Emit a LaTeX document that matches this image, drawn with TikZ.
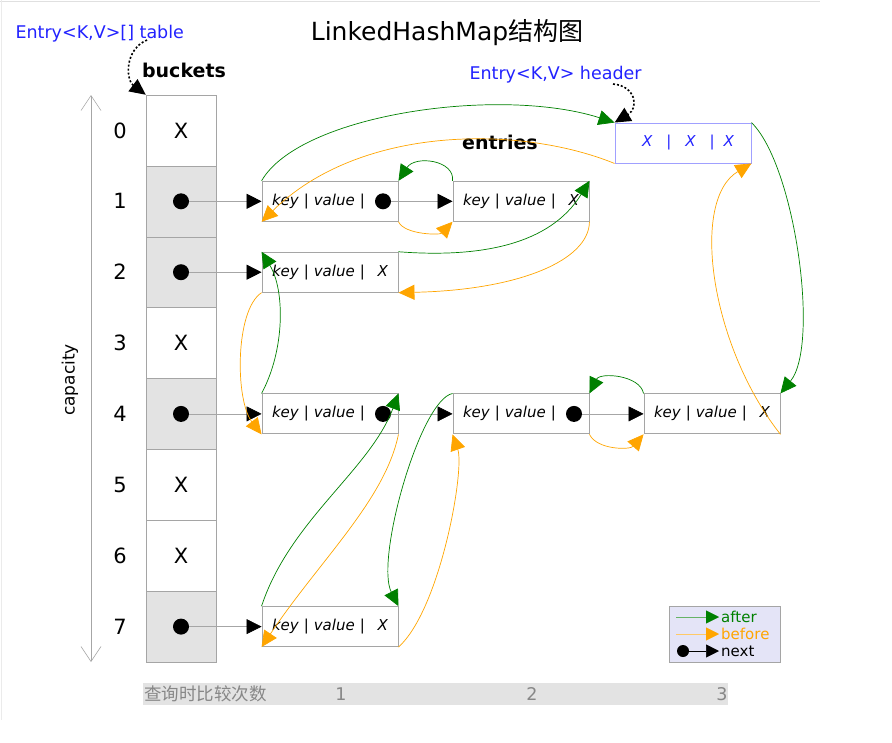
\documentclass[tikz,border=0pt]{standalone}
\usepackage{fontspec}
\setmainfont{DejaVu Sans}
\newfontfamily\cjk{Noto Sans CJK SC}
\usepackage{tikz}
\usetikzlibrary{
    arrows.meta
}
\definecolor{aftercol}{RGB}{0,128,0}
\definecolor{beforecol}{RGB}{255,165,0}
\definecolor{refblue}{RGB}{34,34,255}
\definecolor{hdborder}{RGB}{160,160,255}
\definecolor{cellgray}{RGB}{227,227,227}
\definecolor{boxgray}{RGB}{165,165,165}
\definecolor{legendbg}{RGB}{228,228,247}
\definecolor{axisgray}{RGB}{135,135,135}
\tikzset{
    >={Triangle[length=15pt,width=14pt]},
    cell/.style={
        draw=boxgray,
        minimum width=70pt,
        minimum height=70.9pt,
        inner sep=0pt,
        font=\fontsize{21}{24}\selectfont
    },
    fullcell/.style={
        cell,
        fill=cellgray
    },
    idx/.style={
        font=\fontsize{21}{24}\selectfont
    },
    entry/.style={
        draw=boxgray,
        line width=0.9pt,
        minimum width=136pt,
        minimum height=40pt,
        inner xsep=10pt,
        inner ysep=0pt,
        text width=116pt,
        align=left,
        font=\fontsize{15}{18}\selectfont\itshape
    },
    ptr/.style={
        circle,
        fill=black,
        inner sep=0pt,
        minimum size=16pt
    },
    nextlink/.style={
        draw=black!35,
        line width=0.6pt,
        -{Triangle[length=15pt,width=15pt,black]}
    },
    after/.style={
        draw=aftercol,
        line width=0.7pt,
        -{Triangle[length=16pt,width=15pt]}
    },
    before/.style={
        draw=beforecol,
        line width=0.7pt,
        -{Triangle[length=16pt,width=15pt]}
    },
    dotptr/.style={
        draw=black,
        line width=1.6pt,
        dash pattern=on 2pt off 2pt,
        -{Triangle[length=16pt,width=15pt]}
    },
    bluelbl/.style={
        text=refblue,
        font=\fontsize{17.5}{20}\selectfont
    },
    boldlbl/.style={
        font=\fontsize{19}{22}\selectfont\bfseries
    },
    axislbl/.style={
        text=axisgray,
        font=\fontsize{17.5}{20}\selectfont
    }
}

\begin{document}
\begin{tikzpicture}[
    x=1pt,
    y=1pt
]

    \useasboundingbox (0,0) rectangle (892,-742);
    \draw[black!12] (0,-1.5) -- (820,-1.5);
    \draw[black!8]  (1,0) -- (1,-720);

    % Titulo y rotulos
    \node (ttl) at (447,-33) {\fontsize{25}{28}\selectfont LinkedHashMap{\cjk 结构图}};
    \node[bluelbl, anchor=west] (tbl)   at (12,-34)  {Entry<K,V>[] table};
    \node[bluelbl, anchor=west] (hdlbl) at (466,-75) {Entry<K,V> header};
    \node[boldlbl]              (bkt)   at (184,-70) {buckets};
    \node[boldlbl]              (ents)  at (500,-142) {entries};

    % Cubetas
    \node[cell]     (b0) at (181,-130.4) {X};
    \node[fullcell] (b1) at (181,-201.3) {};
    \node[fullcell] (b2) at (181,-272.2) {};
    \node[cell]     (b3) at (181,-343.1) {X};
    \node[fullcell] (b4) at (181,-413.9) {};
    \node[cell]     (b5) at (181,-484.8) {X};
    \node[cell]     (b6) at (181,-555.7) {X};
    \node[fullcell] (b7) at (181,-626.6) {};

    \node[ptr] (bd1) at (b1.center) {};
    \node[ptr] (bd2) at (b2.center) {};
    \node[ptr] (bd4) at (b4.center) {};
    \node[ptr] (bd7) at (b7.center) {};

    % Indices y capacidad
    \node[idx] (n0) at (120,-130.4) {0};
    \node[idx] (n1) at (120,-201.3) {1};
    \node[idx] (n2) at (120,-272.2) {2};
    \node[idx] (n3) at (120,-343.1) {3};
    \node[idx] (n4) at (120,-413.9) {4};
    \node[idx] (n5) at (120,-484.8) {5};
    \node[idx] (n6) at (120,-555.7) {6};
    \node[idx] (n7) at (120,-626.6) {7};

    \coordinate (captop) at (91,-95);
    \coordinate (capbot) at (91,-662);
    \draw[black!35, line width=0.6pt,
        {Straight Barb[length=15pt,width=20pt]}-{Straight Barb[length=15pt,width=20pt]}]
        (captop) -- (capbot);
    \node[rotate=90, font=\fontsize{17}{20}\selectfont] (cap) at (70,-380) {capacity};

    % Entradas
    \node[entry] (e1a) at (330,-201.3) {key | value |};
    \node[entry] (e1b) at (521,-201.3) {key | value |\hfill X};
    \node[entry] (e2)  at (330,-272.2) {key | value |\hfill X};
    \node[entry] (e4a) at (330,-413.9) {key | value |};
    \node[entry] (e4b) at (521,-413.9) {key | value |};
    \node[entry] (e4c) at (712,-413.9) {key | value |\hfill X};
    \node[entry] (e7)  at (330,-626.6) {key | value |\hfill X};

    \node[ptr] (d1a) at (383,-201.3) {};
    \node[ptr] (d4a) at (383,-413.9) {};
    \node[ptr] (d4b) at (574,-413.9) {};

    % Cabecera
    \node[draw=hdborder, line width=0.9pt, minimum width=136pt, minimum height=40pt,
        text=refblue, font=\fontsize{15}{18}\selectfont\itshape]
        (hd) at (683,-143)
        {\hspace{10pt}X\hspace{14pt}|\hspace{14pt}X\hspace{14pt}|\hspace{9pt}X};

    % Punteros
    \coordinate (tblptr) at (147,-40);
    \coordinate (hdptr)  at (613,-84);
    \draw[dotptr] (tblptr) .. controls (124,-50) and (126,-80) .. (b0.north west);
    \draw[dotptr] (hdptr) .. controls (636,-86) and (639,-108) .. (hd.north west);

    % Enlaces next
    \draw[nextlink] (bd1) -- (e1a);
    \draw[nextlink] (bd2) -- (e2);
    \draw[nextlink] (bd4) -- (e4a);
    \draw[nextlink] (bd7) -- (e7);
    \draw[nextlink] (d1a) -- (e1b);
    \draw[nextlink] (d4a) -- (e4b);
    \draw[nextlink] (d4b) -- (e4c);

    % Enlaces after
    \draw[after] (e1a.north west) .. controls (300,-114) and (500,-86) .. (hd.north west);
    \draw[after] (hd.north east) .. controls (795,-165) and (820,-345) .. (e4c.north east);
    \draw[after] (e4c.north west) .. controls (640,-375) and (600,-372) .. (e4b.north east);
    \draw[after] (e4b.north west) .. controls (420,-400) and (375,-560) .. (e7.north east);
    \draw[after] (e7.north west) .. controls (290,-520) and (370,-470) .. (e4a.north east);
    \draw[after] (e4a.north west) .. controls (285,-350) and (285,-290) .. (e2.north west);
    \draw[after] (e2.north east) .. controls (480,-258) and (550,-245) .. (e1b.north east);
    \draw[after] (e1b.north west) .. controls (455,-160) and (415,-155) .. (e1a.north east);

    % Enlaces before
    \draw[before] (hd.south west) .. controls (520,-125) and (360,-125) .. (e1a.south west);
    \draw[before] (e1a.south east) .. controls (405,-235) and (440,-235) .. (e1b.south west);
    \draw[before] (e1b.south east) .. controls (589,-260) and (520,-290) .. (e2.south east);
    \draw[before] (e2.south west) .. controls (235,-310) and (235,-400) .. (e4a.south west);
    \draw[before] (e4a.south east) .. controls (385,-500) and (320,-560) .. (e7.south west);
    \draw[before] (e7.south east) .. controls (440,-610) and (465,-470) .. (e4b.south west);
    \draw[before] (e4b.south east) .. controls (597,-450) and (630,-450) .. (e4c.south west);
    \draw[before] (e4c.south east) .. controls (710,-345) and (690,-200) .. (hd.south east);

    % Leyenda
    \node[draw=boxgray, fill=legendbg, minimum width=111pt, minimum height=56pt] (lgd) at (724.5,-634) {};
    \coordinate (la0) at (676,-617);
    \coordinate (la1) at (719,-617);
    \coordinate (lb0) at (676,-634);
    \coordinate (lb1) at (719,-634);
    \node[ptr, minimum size=12pt] (ln0) at (683,-651) {};
    \coordinate (ln1) at (719,-651);
    \draw[draw=aftercol!60, line width=0.4pt, -{Triangle[length=13pt,width=13pt,aftercol]}] (la0) -- (la1);
    \draw[draw=beforecol!60, line width=0.4pt, -{Triangle[length=13pt,width=13pt,beforecol]}] (lb0) -- (lb1);
    \draw[draw=black, line width=0.5pt, -{Triangle[length=13pt,width=13pt]}] (ln0) -- (ln1);
    \node[anchor=west, text=aftercol, font=\fontsize{15}{18}\selectfont, inner sep=1pt]  (lat) at (720,-617) {after};
    \node[anchor=west, text=beforecol, font=\fontsize{15}{18}\selectfont, inner sep=1pt] (lbt) at (720,-634) {before};
    \node[anchor=west, font=\fontsize{15}{18}\selectfont, inner sep=1pt]                 (lnt) at (720,-651) {next};

    % Eje inferior
    \node[fill=cellgray, minimum width=585pt, minimum height=22pt, inner sep=0pt] (axis) at (435.5,-694) {};
    \node[axislbl, anchor=west, inner sep=1pt] (axt) at (143,-694) {\cjk 查询时比较次数};
    \node[axislbl] (ax1) at (341,-694) {1};
    \node[axislbl] (ax2) at (532,-694) {2};
    \node[axislbl] (ax3) at (722,-694) {3};

\end{tikzpicture}
\end{document}
